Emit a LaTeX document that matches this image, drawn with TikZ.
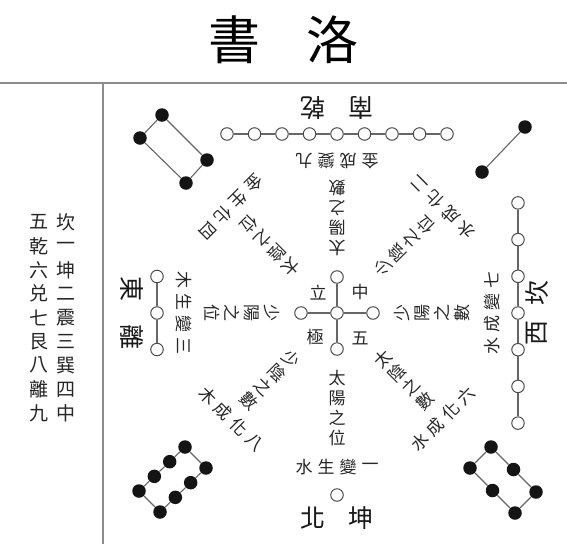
\documentclass[tikz,border=0pt]{standalone}
\usepackage{fontspec}
\setmainfont{Noto Sans CJK TC}
\newcommand\dirtexts[5]{% #1 prefix, #2 rotation, #3 radial text, #4 tangential text, #5 tangential distance
 \begin{scope}[shift={(337,313)}, rotate=#2, transform shape]
  \foreach \c [count=\i] in {#3} \node[txt] (#1r\i) at (0,{45+20*\i}) {\c};
  \foreach \c [count=\i] in {#4} \node[txt] (#1t\i) at ({-55+22*\i},#5) {\c};
 \end{scope}}
\begin{document}
\begin{tikzpicture}[x=1pt,y=-1pt,
  txt/.style={inner sep=0pt, font=\fontsize{17}{17}\selectfont, text=black!85},
  side/.style={inner sep=0pt, font=\fontsize{19}{19}\selectfont, text=black!85},
  big/.style={inner sep=0pt, font=\fontsize{25}{25}\selectfont, text=black!90},
  ttl/.style={inner sep=0pt, font=\fontsize{52}{52}\selectfont, text=black},
  wc/.style={circle, draw=black!70, fill=white, line width=1pt, minimum size=12.5pt, inner sep=0pt},
  bc/.style={circle, fill=black!92, minimum size=13.5pt, inner sep=0pt},
  ln/.style={draw=black!60, line width=1.1pt},
  frame/.style={draw=black!45, line width=1.4pt}]
\useasboundingbox (0,0) rectangle (567,544);
\fill[white] (0,0) rectangle (567,544);
% frame
\draw[frame] (0,83) -- (567,83);
\draw[frame] (103,83) -- (103,544);
% title
\node[ttl] (t1) at (234,40) {書};
\node[ttl] (t2) at (332,40) {洛};
% left columns
\foreach \c [count=\i] in {坎,一,坤,二,震,三,巽,四,中}
  \node[side] (ra\i) at (66,{222+23.9*(\i-1)}) {\c};
\foreach \c [count=\i] in {五,乾,六,兑,七,艮,八,離,九}
  \node[side] (la\i) at (39,{222+23.9*(\i-1)}) {\c};
% direction texts
\dirtexts{s}{0}{太,陽,之,位}{水,生,變,一}{154}
\dirtexts{e}{-90}{少,陽,之,位}{木,生,變,三}{153}
\dirtexts{n}{180}{太,陽,之,數}{金,成,變,九}{152}
\dirtexts{w}{90}{少,陽,之,數}{水,成,變,七}{155}
\dirtexts{ne}{135}{少,陰,之,位}{水,成,化,二}{150}
\dirtexts{nw}{-135}{太,陰,之,位}{金,生,化,四}{150}
\dirtexts{sw}{-45}{少,陰,之,數}{木,成,化,八}{150}
\dirtexts{se}{45}{太,陰,之,數}{水,成,化,六}{150}
% cardinal circle rows and labels
\begin{scope}[shift={(337,313)}, rotate=0, transform shape]
  \node[wc] (s1) at (0,182) {};
  \node[big] (sl1) at (-24,205) {北};
  \node[big] (sl2) at (24,205) {坤};
\end{scope}
\begin{scope}[shift={(337,313)}, rotate=-90, transform shape]
  \foreach \i in {1,...,3} \node[wc] (e\i) at ({(\i-2)*36.5},180) {};
  \foreach \i [remember=\i as \j (initially 1)] in {2,...,3} \draw[ln] (e\j) -- (e\i);
  \node[big] (el1) at (-24,205) {東};
  \node[big] (el2) at (24,205) {離};
\end{scope}
\begin{scope}[shift={(337,313)}, rotate=180, transform shape]
  \foreach \i in {1,...,9} \node[wc] (n\i) at ({(\i-5)*27.5},179) {};
  \foreach \i [remember=\i as \j (initially 1)] in {2,...,9} \draw[ln] (n\j) -- (n\i);
  \node[big] (nl1) at (-24,205) {南};
  \node[big] (nl2) at (24,205) {乾};
\end{scope}
\begin{scope}[shift={(337,313)}, rotate=90, transform shape]
  \foreach \i in {1,...,7} \node[wc] (w\i) at ({(\i-4)*36.7},181) {};
  \foreach \i [remember=\i as \j (initially 1)] in {2,...,7} \draw[ln] (w\j) -- (w\i);
  \node[big] (wl1) at (-20,200) {西};
  \node[big] (wl2) at (20,200) {坎};
\end{scope}
% centre cross
\node[wc] (c0) at (337,313) {};
\node[wc] (c1) at (337,277) {};
\node[wc] (c2) at (337,349) {};
\node[wc] (c3) at (301,313) {};
\node[wc] (c4) at (373,313) {};
\foreach \k in {1,...,4} \draw[ln] (c0) -- (c\k);
\node[txt] (cl1) at (318,293) {立};
\node[txt] (cl2) at (360,292) {中};
\node[txt] (cl3) at (315,337) {極};
\node[txt] (cl4) at (360,338) {五};
% NW: four dots
\node[bc] (a1) at (162,115) {};
\node[bc] (a2) at (140,138) {};
\node[bc] (a3) at (186,183) {};
\node[bc] (a4) at (207,160) {};
\draw[ln] (a1) -- (a2) -- (a3) -- (a4) -- (a1);
% NE: two dots
\node[bc] (b1) at (525,127) {};
\node[bc] (b2) at (482,172) {};
\draw[ln] (b1) -- (b2);
% SW: eight dots
\foreach \k in {0,...,3} {
  \node[bc] (p\k) at ({185-15.33*\k},{447+14.67*\k}) {};
  \node[bc] (q\k) at ({206-15.33*\k},{468+14.67*\k}) {};
}
\draw[ln] (p0) -- (p1) -- (p2) -- (p3) -- (q3) -- (q2) -- (q1) -- (q0) -- (p0);
% SE: six dots
\foreach \k in {0,...,2} {
  \node[bc] (u\k) at ({491+22.5*\k},{447+22.5*\k}) {};
  \node[bc] (v\k) at ({470+22.5*\k},{468+22.5*\k}) {};
}
\draw[ln] (u0) -- (u1) -- (u2) -- (v2) -- (v1) -- (v0) -- (u0);
\end{tikzpicture}
\end{document}
